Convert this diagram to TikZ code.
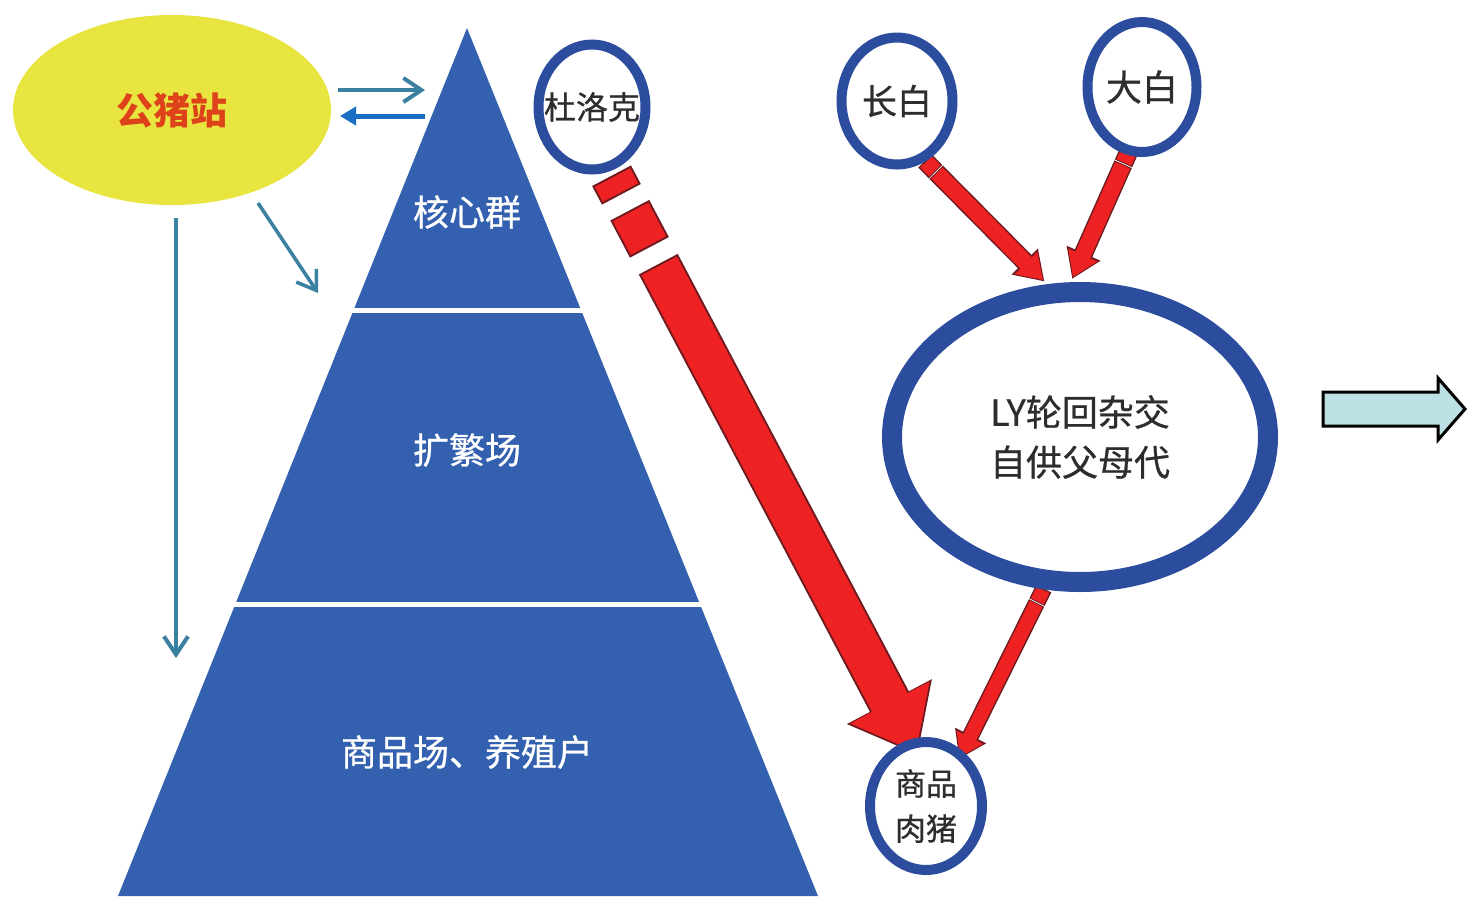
\documentclass[tikz,border=0pt]{standalone}
\usepackage{fontspec}
\setmainfont{Noto Sans CJK SC}
\newfontfamily\semib[FakeBold=0.7]{Noto Sans CJK SC}
\usetikzlibrary{shapes.geometric,arrows.meta,backgrounds}
\definecolor{pyrblue}{RGB}{52,97,175}
\definecolor{ringblue}{RGB}{44,76,158}
\definecolor{boaryel}{RGB}{232,228,64}
\definecolor{boarred}{RGB}{222,66,26}
\definecolor{rfill}{RGB}{238,34,34}
\definecolor{rdark}{RGB}{110,26,30}
\definecolor{tealln}{RGB}{58,128,160}
\definecolor{blueln}{RGB}{26,110,196}
\definecolor{txtgray}{RGB}{45,45,45}
\definecolor{blockfill}{RGB}{188,224,227}
\begin{document}
\begin{tikzpicture}[x=0.5pt,y=-0.5pt,
  ring/.style={ellipse, draw=ringblue, fill=white, line width=5pt, inner sep=0pt, text=txtgray, align=center},
  lvl/.style={text=white, font=\semib\fontsize{18}{22}\selectfont},
  thinarrow/.style={draw=tealln, line width=2pt, -{Straight Barb[width=12pt,length=9pt]}},
  redout/.style={draw=rdark},
  redin/.style={draw=rfill}
]
\useasboundingbox (0,0) rectangle (1468,896);

% pyramid
\fill[pyrblue] (467,28) -- (118,896) -- (818,896) -- cycle;
\draw[white, line width=2.5pt] (330,310) -- (610,310);
\draw[white, line width=2.5pt] (210,604) -- (725,604);
\node[lvl] (core) at (467,212) {核心群};
\node[lvl] (mult) at (467,450) {扩繁场};
\node[lvl] (comm) at (467,752) {商品场、养殖户};

% nodes
\node[ellipse, fill=boaryel, minimum width=159pt, minimum height=95pt, text=boarred,
      font=\bfseries\fontsize{18.5}{22}\selectfont] (boar) at (172,110) {公猪站};
\node[ring, minimum width=53.5pt, minimum height=62.5pt, font=\semib\fontsize{16}{18}\selectfont] (dur) at (592,107) {\makebox[0pt]{杜洛克}};
\node[ring, minimum width=55.5pt, minimum height=63.5pt, font=\semib\fontsize{17.5}{20}\selectfont] (lw) at (897,101) {长白};
\node[ring, minimum width=54.5pt, minimum height=65pt, font=\semib\fontsize{18}{20}\selectfont] (lg) at (1142,87) {大白};
\node[ring, line width=10pt, minimum width=188pt, minimum height=145pt, font=\semib\fontsize{18}{25}\selectfont] (ly) at (1080,437) {LY轮回杂交\\自供父母代};
\node[ring, minimum width=56pt, minimum height=64pt, font=\semib\fontsize{15.5}{22.5}\selectfont] (sp) at (926,806) {商品\\肉猪};

% connector end points
\coordinate (t1s) at (338,90);
\coordinate (t1e) at (425,90);
\coordinate (t2s) at (425,116);
\coordinate (t2e) at (340,116);
\coordinate (d1s) at (258,203);
\coordinate (d1e) at (318,293);
\coordinate (v1s) at (176,218);
\coordinate (v1e) at (176,658);
\coordinate (durS) at (612.5,177.5);
\coordinate (spE) at (916,752);
\coordinate (lwS) at (926,162);
\coordinate (lyE1) at (1043,280);
\coordinate (lgS) at (1129,151);
\coordinate (lyE2) at (1073,277);
\coordinate (lyS) at (1043,590);
\coordinate (spE2) at (960,757);

% blue connectors
\draw[thinarrow] (t1s) -- (t1e);
\draw[blueln, line width=2.5pt, -{Triangle[width=9pt,length=8pt]}] (t2s) -- (t2e);
\draw[thinarrow, line width=1.75pt] (d1s) -- (d1e);
\draw[thinarrow] (v1s) -- (v1e);

% red arrows behind the rings
\begin{pgfonlayer}{background}
\draw[redout, line width=22pt, dash pattern=on 10.5pt off 9pt on 21pt off 9.5pt on 2000pt,
      shorten <=-1pt, shorten >=-1.5pt, -{Triangle[width=46pt,length=30pt]}] (durS) -- (spE);
\draw[redin, line width=20pt, dash pattern=on 8.5pt off 11pt on 19pt off 11.5pt on 2000pt,
      -{Triangle[width=43pt,length=28pt]}] (durS) -- (spE);

\draw[redout, line width=9.5pt, dash pattern=on 7.5pt off 0.5pt on 1000pt, shorten <=-0.75pt, shorten >=-1pt,
      -{Triangle[width=17.5pt,length=14pt]}] (lwS) -- (lyE1);
\draw[redin, line width=8pt, dash pattern=on 6.25pt off 1.5pt on 1000pt,
      -{Triangle[width=15pt,length=12pt]}] (lwS) -- (lyE1);

\draw[redout, line width=9.5pt, dash pattern=on 7.5pt off 0.5pt on 1000pt, shorten <=-0.75pt, shorten >=-1pt,
      -{Triangle[width=17.5pt,length=14pt]}] (lgS) -- (lyE2);
\draw[redin, line width=8pt, dash pattern=on 6.25pt off 1.5pt on 1000pt,
      -{Triangle[width=15pt,length=12pt]}] (lgS) -- (lyE2);

\draw[redout, line width=8.5pt, dash pattern=on 7.5pt off 0.5pt on 1000pt, shorten <=-0.75pt, shorten >=-1pt,
      -{Triangle[width=16.5pt,length=13pt]}] (lyS) -- (spE2);
\draw[redin, line width=7pt, dash pattern=on 6.25pt off 1.5pt on 1000pt,
      -{Triangle[width=14pt,length=11pt]}] (lyS) -- (spE2);
\end{pgfonlayer}

% block arrow to the right
\draw[black, line width=1.5pt, fill=blockfill, line join=miter]
  (1323,392) -- (1438,392) -- (1438,378) -- (1465,409) -- (1438,440) -- (1438,426) -- (1323,426) -- cycle;
\end{tikzpicture}
\end{document}
